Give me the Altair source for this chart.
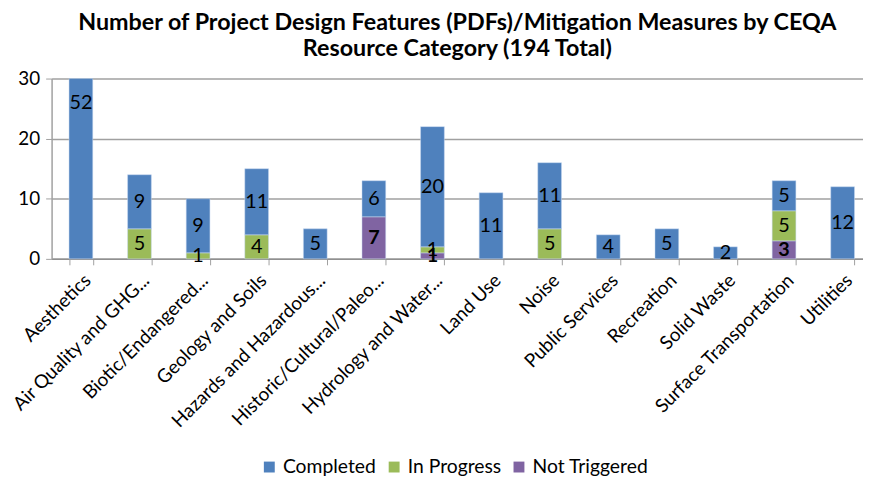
import altair as alt
import pandas as pd

categories = ["Aesthetics", "Air Quality and GHG...", "Biotic/Endangered...", "Geology and Soils",
              "Hazards and Hazardous...", "Historic/Cultural/Paleo...", "Hydrology and Water...",
              "Land Use", "Noise", "Public Services", "Recreation", "Solid Waste",
              "Surface Transportation", "Utilities"]
completed = [52, 9, 9, 11, 5, 6, 20, 11, 11, 4, 5, 2, 5, 12]
in_progress = [0, 5, 1, 4, 0, 0, 1, 0, 5, 0, 0, 0, 5, 0]
not_triggered = [0, 0, 0, 0, 0, 7, 1, 0, 0, 0, 0, 0, 3, 0]
series = ["Completed", "In Progress", "Not Triggered"]
colors = ["#4F81BD", "#9BBB59", "#8064A2"]

rows = []
for i, c in enumerate(categories):
    base = 0
    for s, vals in [("Not Triggered", not_triggered), ("In Progress", in_progress), ("Completed", completed)]:
        v = vals[i]
        if v > 0:
            rows.append({"category": c, "series": s, "value": v, "start": base, "end": base + v,
                         "mid": base + v / 2})
        base += v
df = pd.DataFrame(rows)

FONT = "Lato"

x_scale = alt.Scale(range=[0, 828], paddingInner=0.595, paddingOuter=0.2975)
x_enc = alt.X("category:N", sort=categories, title=None, scale=x_scale,
              axis=alt.Axis(labelAngle=-45, labelFontSize=19, labelColor="#000000", labelFont=FONT,
                            tickBand="extent", tickColor="#A0A0A0", tickSize=6, domainColor="#909090",
                            domainWidth=1.5, labelPadding=6, grid=False, labelOverlap=False,
                            labelLimit=0))
y_scale = alt.Scale(domain=[0, 30], clamp=True, nice=False)

bars = alt.Chart(df).mark_bar(stroke="#C6D9F1", strokeWidth=0.5).encode(
    x=x_enc,
    y=alt.Y("start:Q", scale=y_scale, title=None,
            axis=alt.Axis(values=[0, 10, 20, 30], labelFontSize=19, labelFont=FONT, labelColor="#000000",
                          gridColor="#A0A0A0", gridWidth=1.5, domainColor="#A0A0A0", domainWidth=1.5,
                          tickColor="#A0A0A0", tickSize=6, labelPadding=6)),
    y2="end:Q",
    color=alt.Color("series:N", scale=alt.Scale(domain=series, range=colors),
                    legend=alt.Legend(title=None, orient="none", legendX=210, legendY=382,
                                      direction="horizontal",
                                      symbolType="square", symbolSize=121, labelFontSize=19.5,
                                      labelFont=FONT, labelColor="#000000", columnPadding=8,
                                      labelOffset=4, symbolStrokeWidth=0, labelLimit=0)),
)

labels_normal = alt.Chart(df).transform_filter(alt.datum.series != "Not Triggered").mark_text(
    fontSize=20, font=FONT, color="#000000").encode(
    x=alt.X("category:N", sort=categories, scale=x_scale),
    y=alt.Y("mid:Q", scale=y_scale),
    text="value:Q",
)
labels_bold = alt.Chart(df).transform_filter(alt.datum.series == "Not Triggered").mark_text(
    fontSize=20, font=FONT, color="#000000", fontWeight="bold").encode(
    x=alt.X("category:N", sort=categories, scale=x_scale),
    y=alt.Y("mid:Q", scale=y_scale),
    text="value:Q",
)

chart = alt.layer(bars, labels_normal, labels_bold).properties(
    width=819, height=182,
    autosize=alt.AutoSizeParams(type="none"),
    title=alt.Title(["Number of Project Design Features (PDFs)/Mitigation Measures by CEQA",
                     "Resource Category (194 Total)"],
                    fontSize=23.5, font=FONT, fontWeight="bold", color="#000000", anchor="middle",
                    lineHeight=27, offset=9),
    padding={"left": 44, "top": 69, "right": 0, "bottom": 222},
).configure_view(stroke=None)

chart.save("out.html", embed_options={"renderer": "svg", "actions": False})
